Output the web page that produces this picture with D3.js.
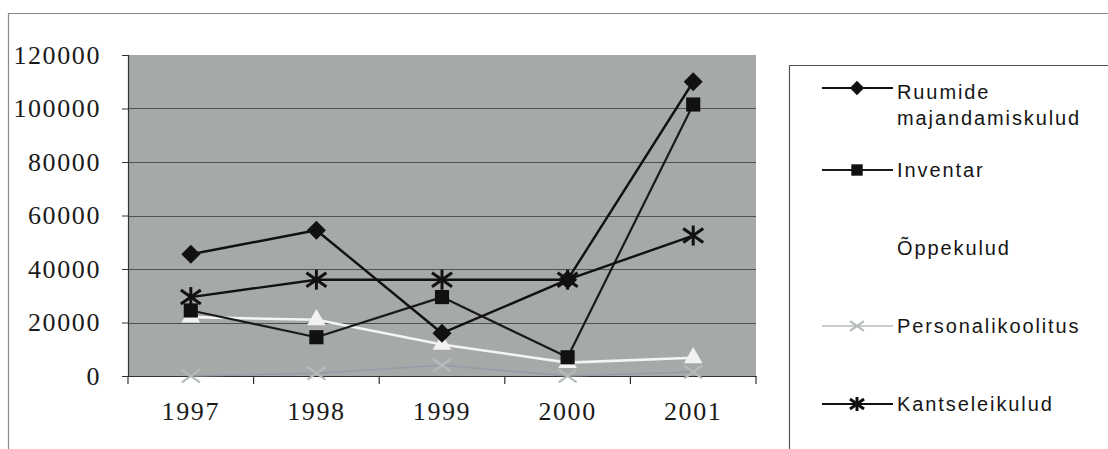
<!DOCTYPE html>
<html>
<head>
<meta charset="utf-8">
<script src="https://cdn.jsdelivr.net/npm/d3@7"></script>
<style>
  body { margin: 0; background: #fff; }
  svg { display: block; }
</style>
</head>
<body>
<svg id="chart" width="1108" height="449"></svg>
<script>
// data
const years = ["1997", "1998", "1999", "2000", "2001"];
const ruumide    = [45500, 54500, 16000, 36000, 110000];
const inventar   = [24500, 14500, 29500, 7000, 101500];
const oppekulud  = [22000, 21000, 11800, 5000, 6800];
const personal   = [0, 1000, 4000, 0, 1500];
const kantselei  = [29500, 36000, 36000, 36000, 52500];
const yTicks = [0, 20000, 40000, 60000, 80000, 100000, 120000];

const seriesNames = ["Ruumide majandamiskulud", "Inventar", "Õppekulud", "Personalikoolitus", "Kantseleikulud"];

const svg = d3.select("#chart");
const W = 1108, H = 449;

const plot = { left: 128, top: 55, right: 756, bottom: 376 };

const x = d3.scaleBand().domain(years).range([plot.left, plot.right]);
const y = d3.scaleLinear().domain([0, 120000]).range([plot.bottom, plot.top]);
const cx = d => x(d) + x.bandwidth() / 2;

const serif = "'Liberation Serif', 'Times New Roman', serif";

// outer chart frame (cropped at right and bottom)
svg.append("path")
  .attr("d", `M8.5,${H} V13.5 H${W}`)
  .attr("fill", "none")
  .attr("stroke", "#8a8a8a")
  .attr("stroke-width", 1.2);

// plot area
svg.append("rect")
  .attr("x", plot.left).attr("y", plot.top)
  .attr("width", plot.right - plot.left).attr("height", plot.bottom - plot.top)
  .attr("fill", "#a5a9a8");

// gridlines
svg.append("g").selectAll("line").data(yTicks.filter(t => t > 0 && t < 120000)).join("line")
  .attr("x1", plot.left).attr("x2", plot.right)
  .attr("y1", d => Math.round(y(d)) + 0.5).attr("y2", d => Math.round(y(d)) + 0.5)
  .attr("stroke", "#4e5252").attr("stroke-width", 1);

// y axis
const gY = svg.append("g").attr("transform", `translate(${plot.left},0)`)
  .call(d3.axisLeft(y).tickValues(yTicks).tickSize(6).tickPadding(21).tickFormat(d3.format("d")));
gY.select(".domain").attr("stroke", "#333").attr("stroke-width", 1.2);
gY.selectAll(".tick line").attr("stroke", "#333");
gY.selectAll(".tick text")
  .attr("font-family", serif)
  .attr("font-size", 26)
  .attr("letter-spacing", 1.6)
  .attr("fill", "#1a1a1a");

// x axis
const gX = svg.append("g").attr("transform", `translate(0,${plot.bottom})`)
  .call(d3.axisBottom(x).tickSize(0).tickPadding(26));
gX.select(".domain").attr("stroke", "#333").attr("stroke-width", 1.2);
gX.selectAll(".tick text")
  .attr("font-family", serif)
  .attr("font-size", 26)
  .attr("letter-spacing", 1.6)
  .attr("fill", "#1a1a1a");
// category separators
svg.append("g").selectAll("line").data(years.concat(["end"])).join("line")
  .attr("x1", (d, i) => plot.left + i * x.bandwidth())
  .attr("x2", (d, i) => plot.left + i * x.bandwidth())
  .attr("y1", plot.bottom).attr("y2", plot.bottom + 8)
  .attr("stroke", "#333").attr("stroke-width", 1.2);

// markers
const symbolPath = (type, size) => {
  if (type === "diamond") return d3.symbol(d3.symbolDiamond2, size)();
  if (type === "square") return d3.symbol(d3.symbolSquare, size)();
  if (type === "triangle") return d3.symbol(d3.symbolTriangle, size)();
  return null;
};

const series = [
  { name: seriesNames[0], values: ruumide,   stroke: "#111", width: 2.4, marker: "diamond",  mfill: "#111", msize: 230 },
  { name: seriesNames[1], values: inventar,  stroke: "#1a1a1a", width: 2.2, marker: "square", mfill: "#111", msize: 200 },
  { name: seriesNames[2], values: oppekulud, stroke: "#f4f4f2", width: 2.6, marker: "triangle", mfill: "#f2f2f0", msize: 150 },
  { name: seriesNames[3], values: personal,  stroke: "#989aa6", width: 1.6, marker: "x",      mfill: "#b3bcbb", msize: 9 },
  { name: seriesNames[4], values: kantselei, stroke: "#111", width: 2.4, marker: "star",   mfill: "#111", msize: 10 }
];

const line = d3.line().x(d => cx(d.year)).y(d => y(d.value));

const drawMarker = (g, s, px, py) => {
  if (s.marker === "x" || s.marker === "star") {
    const r = s.msize;
    const m = g.append("g").attr("transform", `translate(${px},${py})`)
      .attr("stroke", s.mfill).attr("stroke-width", s.marker === "star" ? 3 : 2.2);
    m.append("line").attr("x1", -r).attr("y1", -r * 0.7).attr("x2", r).attr("y2", r * 0.7);
    m.append("line").attr("x1", -r).attr("y1", r * 0.7).attr("x2", r).attr("y2", -r * 0.7);
    if (s.marker === "star") m.append("line").attr("x1", 0).attr("y1", -r).attr("x2", 0).attr("y2", r);
  } else {
    g.append("path")
      .attr("transform", `translate(${px},${py})`)
      .attr("d", symbolPath(s.marker, s.msize))
      .attr("fill", s.mfill);
  }
};

// draw order: lightest first, dark on top
const order = [3, 2, 1, 4, 0];
const gSeries = svg.append("g");
order.forEach(i => {
  const s = series[i];
  const pts = years.map((yr, j) => ({ year: yr, value: s.values[j] }));
  gSeries.append("path")
    .attr("d", line(pts))
    .attr("fill", "none")
    .attr("stroke", s.stroke)
    .attr("stroke-width", s.width)
    .attr("stroke-linejoin", "round");
  const gm = gSeries.append("g");
  pts.forEach(p => drawMarker(gm, s, cx(p.year), y(p.value)));
});

// legend
const legend = svg.append("g");
legend.append("path")
  .attr("d", `M${W},65.5 H789.5 V${H}`)
  .attr("fill", "none")
  .attr("stroke", "#555")
  .attr("stroke-width", 1.2);

const legendRows = [
  { s: series[0], ly: 88, lines: ["Ruumide", "majandamiskulud"], ty: 99 },
  { s: series[1], ly: 170, lines: ["Inventar"], ty: 177 },
  { s: series[2], ly: 248, lines: ["Õppekulud"], ty: 255 },
  { s: series[3], ly: 326, lines: ["Personalikoolitus"], ty: 333 },
  { s: series[4], ly: 404, lines: ["Kantseleikulud"], ty: 411 }
];

legendRows.forEach(r => {
  const s = r.s;
  const gl = legend.append("g");
  gl.append("line")
    .attr("x1", 822).attr("x2", 893)
    .attr("y1", r.ly).attr("y2", r.ly)
    .attr("stroke", s.name === "Personalikoolitus" ? "#b8bcbc" : (s.name === "Õppekulud" ? "#fff" : s.stroke))
    .attr("stroke-width", s.name === "Personalikoolitus" ? 1.6 : 2.2);
  const ms = Object.assign({}, s);
  if (s.marker === "x" || s.marker === "star") ms.msize = 7;
  if (s.marker === "diamond" || s.marker === "square") ms.msize = 130;
  if (s.name === "Õppekulud") ms.mfill = "#fff";
  drawMarker(gl, ms, 857, r.ly);
  const t = gl.append("text")
    .attr("x", 897).attr("y", r.ty)
    .attr("font-family", "'Liberation Sans', Arial, sans-serif")
    .attr("font-size", 20)
    .attr("letter-spacing", 1.9)
    .attr("fill", "#151515");
  r.lines.forEach((ln, k) => {
    t.append("tspan").attr("x", 897).attr("dy", k === 0 ? 0 : 26).text(ln);
  });
});
</script>
</body>
</html>
